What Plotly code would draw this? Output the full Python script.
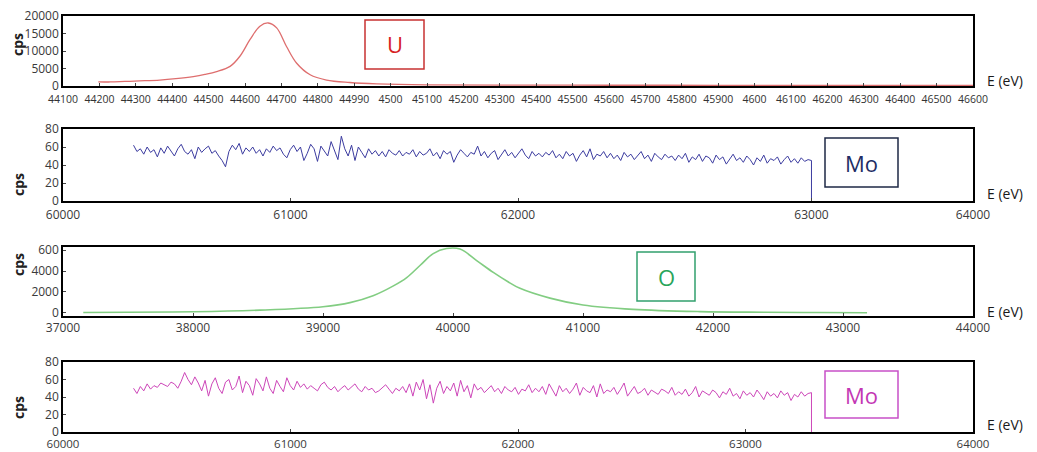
import plotly.graph_objects as go
import numpy as np

# ---------------- data ----------------
# Panel 1: U peak
u_energy = [44197, 44230, 44270, 44310, 44366, 44410, 44458, 44490, 44522, 44559, 44586,
            44614, 44641, 44664, 44687, 44714, 44742, 44779, 44824, 44888, 44962, 45099,
            45300, 45600, 45900, 46200, 46600]
u_cps = [1200, 1150, 1300, 1450, 1700, 2100, 2700, 3300, 4100, 5600, 8500,
         13300, 17100, 18000, 16600, 11300, 6500, 3200, 1700, 1000, 600, 300,
         250, 220, 200, 180, 170]
u_ticks = list(range(44100, 46700, 100))
u_ticktext = ["44100", "44200", "44300", "44400", "44500", "44600", "44700", "44800",
              "44990", "4500", "45100", "45200", "45300", "45400", "45500", "45600",
              "45700", "45800", "45900", "4600", "46100", "46200", "46300", "46400",
              "46500", "46600"]

# Panel 2: Mo (blue)
mo1_start, mo1_end = 60310, 63290
mo1_cps = [62, 55, 58, 52, 60, 54, 57, 49, 59, 53, 61, 56, 50, 58, 63, 55, 52, 57, 47, 60,
           54, 58, 61, 53, 56, 50, 45, 38, 55, 62, 57, 64, 52, 59, 55, 60, 53, 57, 50, 58,
           54, 61, 56, 59, 52, 48, 57, 62, 55, 60, 45, 53, 63, 58, 44, 61, 55, 50, 66, 57,
           46, 72, 58, 50, 62, 45, 60, 54, 48, 58, 52, 56, 50, 55, 49, 57, 53, 51, 56, 50,
           54, 52, 57, 49, 55, 51, 53, 58, 50, 54, 47, 56, 52, 55, 43, 51, 57, 53, 49, 54,
           52, 61, 50, 55, 48, 53, 56, 46, 52, 57, 50, 54, 48, 53, 58, 51, 47, 55, 50, 53,
           49, 54, 51, 56, 48, 52, 47, 55, 50, 53, 44, 51, 56, 49, 58, 46, 52, 50, 55, 48,
           53, 47, 51, 45, 54, 49, 52, 46, 50, 55, 47, 51, 44, 53, 49, 46, 52, 48, 50, 45,
           51, 47, 53, 43, 49, 46, 52, 44, 50, 48, 42, 51, 46, 49, 41, 47, 52, 45, 48, 43,
           50, 46, 40, 48, 44, 51, 42, 47, 45, 49, 41, 46, 50, 43, 47, 42, 48, 44, 46, 45]
mo1_drop_cps = [0]
mo_ticks = [60000, 61000, 62000, 63000, 64000]
mo1_tickvals = [60000, 61000, 62000, 63290, 64000]

# Panel 3: O peak
o_energy = [37156, 37500, 38002, 38515, 39000, 39208, 39385, 39538, 39644, 39746, 39848,
            39950, 40054, 40182, 40310, 40420, 40515, 40746, 41000, 41385, 41900, 42400,
            42800, 43185]
o_cps = [30, 60, 100, 260, 590, 980, 1640, 2560, 3380, 4530, 5670,
         6150, 6100, 5000, 3870, 3000, 2350, 1410, 750, 330, 120, 60,
         30, 10]
o_ticks = [37000, 38000, 39000, 40000, 41000, 42000, 43000, 44000]
o_yticks = [0, 2000, 4000, 6000]
o_yticktext = ["0", "2000", "4000", "600"]

# Panel 4: Mo (magenta)
mo2_start, mo2_end = 60310, 63290
mo2_cps = [50, 44, 52, 47, 55, 49, 53, 51, 56, 54, 52, 57, 55, 50, 58, 68, 60, 54, 63, 56,
           47, 59, 41, 55, 62, 50, 44, 57, 60, 48, 52, 64, 45, 58, 53, 42, 61, 55, 47, 63,
           50, 44, 59, 52, 46, 62, 53, 48, 58, 51, 55, 49, 53, 50, 47, 54, 57, 51, 48, 52,
           46, 50, 53, 48, 51, 55, 49, 46, 52, 48, 50, 45, 47, 51, 54, 49, 44, 50, 47, 52,
           45, 55, 41, 57, 48, 60, 38, 54, 33, 50, 58, 44, 52, 47, 56, 41, 59, 46, 53, 39,
           55, 48, 51, 45, 49, 53, 46, 50, 44, 52, 48, 46, 51, 43, 49, 47, 54, 45, 50, 46,
           52, 43, 55, 48, 41, 53, 46, 50, 44, 49, 56, 42, 51, 47, 45, 53, 40, 55, 44, 48,
           46, 51, 43, 49, 56, 41, 47, 52, 44, 46, 50, 42, 48, 45, 43, 49, 47, 44, 51, 42,
           46, 43, 49, 41, 45, 52, 40, 47, 44, 42, 48, 45, 39, 46, 43, 50, 41, 44, 38, 47,
           42, 45, 40, 48, 43, 37, 46, 41, 44, 39, 47, 42, 45, 36, 43, 40, 46, 41, 44, 45]
mo2_drop_cps = [0]
cps_ticks = [0, 20, 40, 60, 80]
u_yticks = [0, 5000, 10000, 15000, 20000]

labels = ["U", "Mo", "O", "Mo"]

# ---------------- figure ----------------
W, H = 1037, 452
def px(x):
    return x / W
def py(y):
    return 1 - y / H

mo1_energy = list(np.linspace(mo1_start, mo1_end, len(mo1_cps))) + [mo1_end]
mo2_energy = list(np.linspace(mo2_start, mo2_end, len(mo2_cps))) + [mo2_end]

fig = go.Figure()
fig.add_trace(go.Scatter(x=u_energy, y=u_cps, mode="lines", line=dict(color="rgb(222,110,110)", width=1.3, shape="spline"),
                         xaxis="x", yaxis="y", showlegend=False))
fig.add_trace(go.Scatter(x=mo1_energy, y=mo1_cps + mo1_drop_cps, mode="lines", line=dict(color="rgb(60,60,160)", width=1),
                         xaxis="x2", yaxis="y2", showlegend=False))
fig.add_trace(go.Scatter(x=o_energy, y=o_cps, mode="lines", line=dict(color="rgb(130,205,130)", width=1.6, shape="spline"),
                         xaxis="x3", yaxis="y3", showlegend=False))
fig.add_trace(go.Scatter(x=mo2_energy, y=mo2_cps + mo2_drop_cps, mode="lines", line=dict(color="rgb(205,70,185)", width=1),
                         xaxis="x4", yaxis="y4", showlegend=False))

xdom = [px(63), px(973)]
doms = [(16, 86), (129, 201), (247, 316), (362, 432)]
tickfont = dict(family="Open Sans, Segoe UI, sans-serif", size=12, color="#3a3a3a")
axis_common = dict(showline=True, mirror=True, linecolor="black", linewidth=1.5,
                   showgrid=False, zeroline=False, ticks="inside", ticklen=3,
                   tickcolor="#444", tickfont=tickfont, automargin=False, tickformat="d")

fig.update_layout(
    width=W, height=H, margin=dict(l=0, r=0, t=0, b=0, autoexpand=False),
    paper_bgcolor="white", plot_bgcolor="white",
    xaxis=dict(domain=xdom, anchor="y", range=[44100, 46600], tickvals=u_ticks, ticktext=u_ticktext,
               ticklabelstandoff=3,
               **{**axis_common, "tickfont": dict(family="Open Sans, sans-serif", size=10.5, color="#333")}),
    yaxis=dict(domain=[py(doms[0][1]), py(doms[0][0])], anchor="x", range=[0, 20000], tickvals=u_yticks, **axis_common),
    xaxis2=dict(domain=xdom, anchor="y2", range=[60000, 64000], tickvals=mo1_tickvals,
                ticktext=[str(t) for t in mo_ticks], ticklabelstandoff=2, **axis_common),
    yaxis2=dict(domain=[py(doms[1][1]), py(doms[1][0])], anchor="x2", range=[0, 80], tickvals=cps_ticks, **axis_common),
    xaxis3=dict(domain=xdom, anchor="y3", range=[37000, 44000], tickvals=o_ticks, **axis_common),
    yaxis3=dict(domain=[py(doms[2][1]), py(doms[2][0])], anchor="x3", range=[-300, 6300], tickvals=o_yticks,
                ticktext=o_yticktext, **axis_common),
    xaxis4=dict(domain=xdom, anchor="y4", range=[60000, 64000], tickvals=mo_ticks,
                **{**axis_common, "tickfont": dict(family="Open Sans, sans-serif", size=11.5, color="#3a3a3a")}),
    yaxis4=dict(domain=[py(doms[3][1]), py(doms[3][0])], anchor="x4", range=[0, 80], tickvals=cps_ticks, **axis_common),
)

# axis titles as annotations
ev_y = [80, 193, 311, 424]
cps_y = [45, 185, 265, 408]
for i in range(4):
    fig.add_annotation(x=px(985), y=py(ev_y[i]), xref="paper", yref="paper", text="E (eV)",
                       showarrow=False, xanchor="left", yanchor="middle",
                       font=dict(family="Open Sans, sans-serif", size=14, color="#1a1a1a"))
    fig.add_annotation(x=px(18), y=py(cps_y[i]), xref="paper", yref="paper", text="<b>cps</b>",
                       showarrow=False, textangle=-90, xanchor="center", yanchor="middle",
                       font=dict(family="Open Sans, sans-serif", size=14, color="#222"))

# legend boxes
boxes = [(365, 20, 424, 69, "rgb(200,50,50)", "rgb(215,35,35)"),
         (825, 138, 898, 187, "rgb(30,40,70)", "rgb(30,45,100)"),
         (637, 252, 695, 301, "rgb(50,160,110)", "rgb(40,165,90)"),
         (825, 371, 898, 418, "rgb(200,80,200)", "rgb(195,55,180)")]
for (x0, y0, x1, y1, bc, tc), lab in zip(boxes, labels):
    fig.add_shape(type="rect", xref="paper", yref="paper", x0=px(x0), x1=px(x1), y0=py(y1), y1=py(y0),
                  line=dict(color=bc, width=1.5), fillcolor="rgba(0,0,0,0)")
    fig.add_annotation(x=px((x0 + x1) / 2), y=py((y0 + y1) / 2), xref="paper", yref="paper", text=lab,
                       showarrow=False, xanchor="center", yanchor="middle",
                       font=dict(family="Open Sans, sans-serif", size=22, color=tc))

fig.write_html("out.html", config={"displayModeBar": False},
               post_script="document.body.style.margin='0';document.body.style.overflow='hidden';")
